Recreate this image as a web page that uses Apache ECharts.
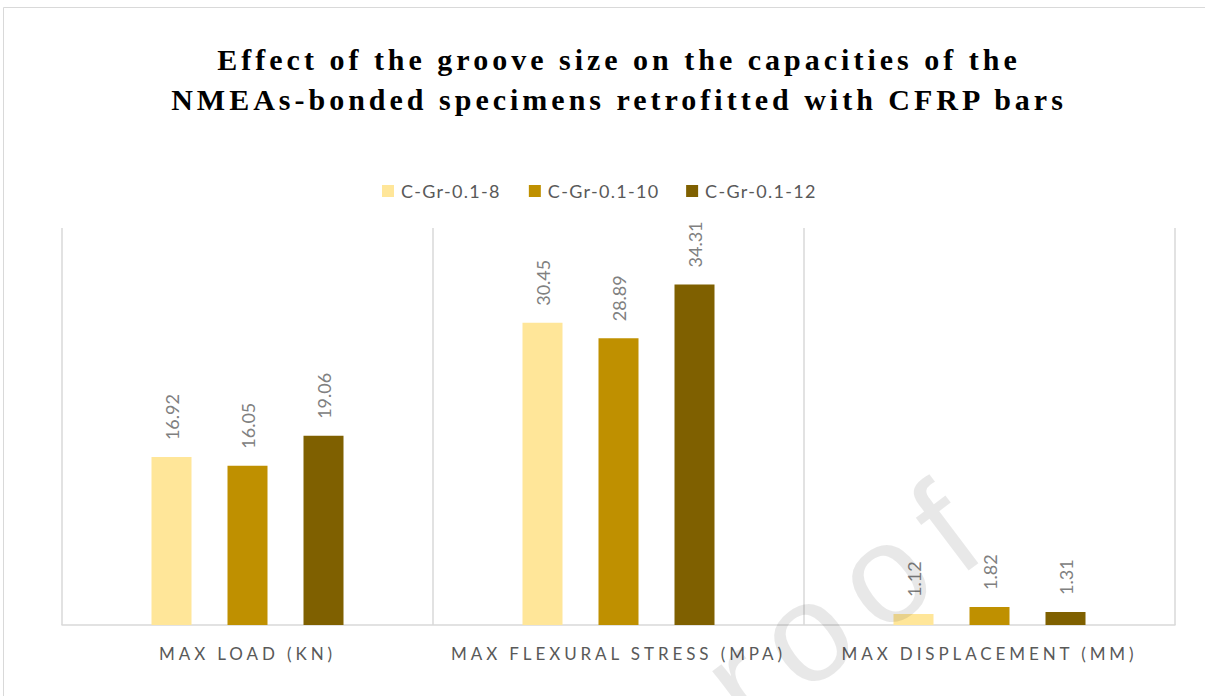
<!DOCTYPE html>
<html>
<head>
<meta charset="utf-8">
<script src="https://cdn.jsdelivr.net/npm/echarts@6/dist/echarts.min.js"></script>
<style>
html,body{margin:0;padding:0;background:#fff;}
#main{width:1205px;height:696px;}
</style>
</head>
<body>
<div id="main"></div>
<script>
const titleLines = ['Effect of the groove size on the capacities of the', 'NMEAs-bonded specimens retrofitted with CFRP bars'];
const categories = ['MAX LOAD (KN)', 'MAX FLEXURAL STRESS (MPA)', 'MAX DISPLACEMENT (MM)'];
const seriesNames = ['C-Gr-0.1-8', 'C-Gr-0.1-10', 'C-Gr-0.1-12'];
const valuesGr8 = [16.92, 30.45, 1.12];
const valuesGr10 = [16.05, 28.89, 1.82];
const valuesGr12 = [19.06, 34.31, 1.31];
const watermarkText = 'proof';
const colors = ['#FFE699', '#BF9000', '#7F6000'];

const chart = echarts.init(document.getElementById('main'), null, {renderer: 'svg'});
const seriesValues = [valuesGr8, valuesGr10, valuesGr12];

const option = {
  animation: false,
  backgroundColor: '#fff',
  title: {
    text: titleLines.join('\n'),
    left: 614,
    top: 34,
    textAlign: 'center',
    textStyle: {
      fontFamily: 'Liberation Serif',
      fontWeight: 'bold',
      fontSize: 30,
      lineHeight: 40,
      color: '#000'
    }
  },
  legend: {
    top: 177,
    left: 377,
    itemWidth: 12,
    itemHeight: 12,
    itemGap: 41,
    icon: 'rect',
    textStyle: {fontFamily: 'Lato', fontSize: 18, color: '#595959', padding: [0, 0, 0, 2]},
    data: seriesNames
  },
  grid: {left: 62, right: 30, top: 228, bottom: 71, containLabel: false},
  xAxis: {
    type: 'category',
    data: categories,
    axisLine: {lineStyle: {color: '#d9d9d9', width: 1.5}},
    axisTick: {show: false},
    splitLine: {show: true, lineStyle: {color: '#d9d9d9', width: 1.5}},
    axisLabel: {fontFamily: 'Lato', fontSize: 17, color: '#595959', margin: 20}
  },
  yAxis: {
    type: 'value',
    min: 0,
    max: 40,
    show: false,
    splitLine: {show: false}
  },
  graphic: [
    {
      type: 'rect',
      shape: {x: 3.5, y: 7.5, width: 1215, height: 710},
      style: {fill: 'none', stroke: '#d9d9d9', lineWidth: 1},
      silent: true, z: -10
    },
    {
      type: 'text',
      x: 642, y: 756,
      rotation: 0.646,
      style: {
        text: watermarkText,
        font: '140px "Liberation Sans"',
        fill: 'rgba(0,0,0,0.09)',
        align: 'left',
        verticalAlign: 'middle'
      },
      silent: true, z: 100
    }
  ],
  series: seriesNames.map((name, i) => ({
    name: name,
    type: 'bar',
    data: seriesValues[i],
    barWidth: 40,
    barGap: '90%',
    itemStyle: {color: colors[i]},
    label: {
      show: true,
      position: 'top',
      rotate: 90,
      align: 'left',
      verticalAlign: 'middle',
      distance: 17,
      fontFamily: 'Lato',
      fontSize: 18,
      color: '#808080',
      formatter: p => p.value.toFixed(2)
    }
  }))
};
chart.setOption(option);

function applySpacing() {
  const texts = document.querySelectorAll('#main svg text');
  texts.forEach(t => {
    const s = t.textContent;
    if (titleLines.indexOf(s) >= 0) t.style.letterSpacing = '4px';
    else if (categories.indexOf(s) >= 0) t.style.letterSpacing = '3.9px';
    else if (seriesNames.indexOf(s) >= 0) t.style.letterSpacing = '1.3px';
    else if (s === watermarkText) t.style.letterSpacing = '20px';
  });
}
chart.on('finished', applySpacing);
applySpacing();
setTimeout(applySpacing, 50);
</script>
</body>
</html>
